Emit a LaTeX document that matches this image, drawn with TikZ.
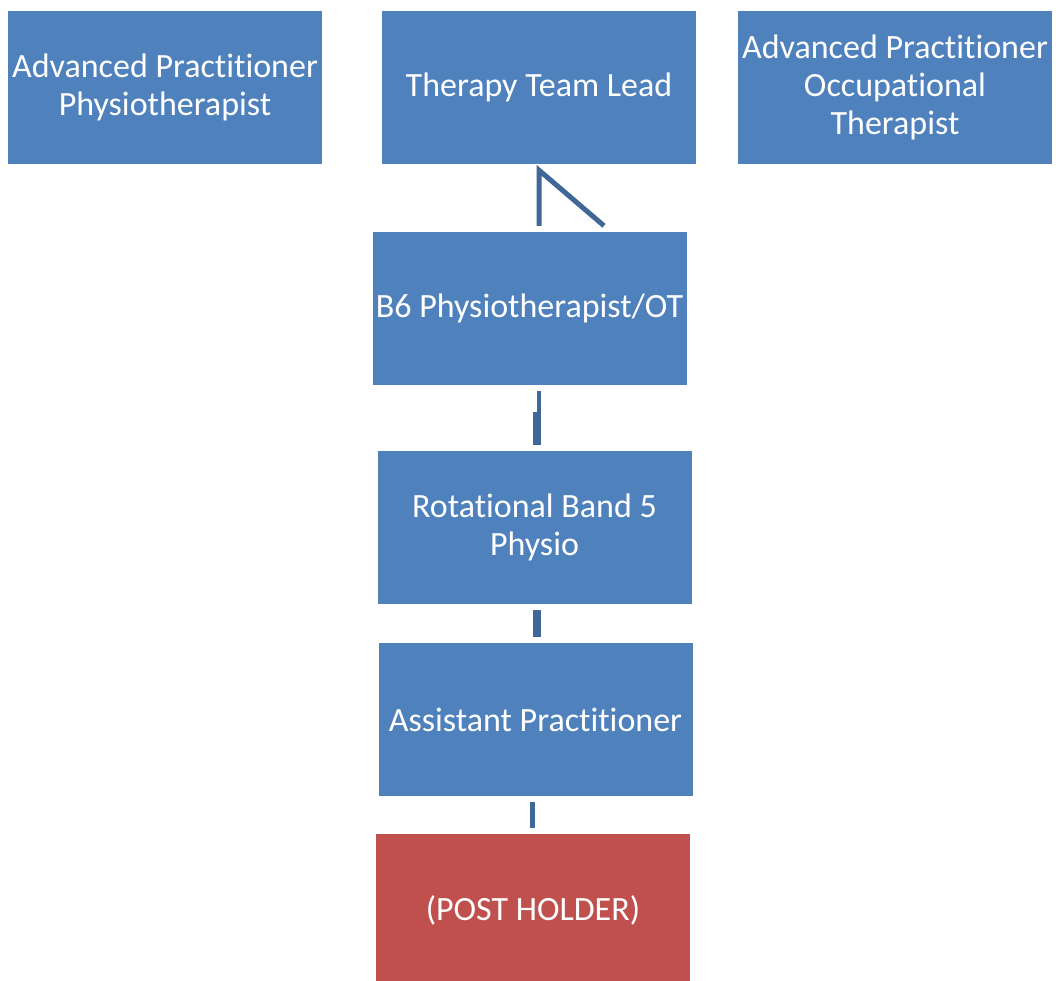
\documentclass[tikz,border=0pt]{standalone}
\usepackage{fontspec}
\setmainfont{Carlito}[Ligatures={NoCommon}]
\usetikzlibrary{calc}
\definecolor{boxblue}{HTML}{4F81BD}
\definecolor{boxred}{HTML}{C0504D}
\definecolor{linkblue}{HTML}{3F6797}
\tikzset{
  orgbox/.style={fill=boxblue, draw=none, minimum width=314pt, minimum height=153pt, inner sep=0pt, align=center, text=white, font=\fontsize{34}{38}\selectfont},
  postbox/.style={orgbox, fill=boxred},
  link/.style={draw=linkblue, line width=5pt}
}
\begin{document}
\begin{tikzpicture}[x=1pt,y=-1pt]
\useasboundingbox (0,0) rectangle (1056,980);
\node[orgbox] (app) at (165,87.5) {Advanced Practitioner\\Physiotherapist};
\node[orgbox] (ttl) at (539,87.5) {Therapy Team Lead};
\node[orgbox] (apo) at (895,87.5) {Advanced Practitioner\\Occupational\\Therapist};
\node[orgbox] (b6) at (529.5,308.5) {B6 Physiotherapist/OT};
\node[orgbox] (rot) at (534.5,527.5) {Rotational Band 5\\Physio};
\node[orgbox] (ap) at (535.5,719.5) {Assistant Practitioner};
\node[postbox] (ph) at (533,910.5) {(POST HOLDER)};
% TTL to B6
\coordinate (t1) at ($(ttl.south)+(0,6)$);
\coordinate (t2) at ($(b6.north -| ttl.south)+(0,-6)$);
\coordinate (t3) at ($(t2)+(65,0)$);
\draw[link, line join=miter] (t2) -- (t1) -- (t3);
% B6 to Rot
\coordinate (b1) at ($(b6.south -| ttl.south)+(0,6)$);
\coordinate (b2) at ($(rot.north -| ttl.south)+(0,-6)$);
\draw[link, line width=4pt] (b1) -- (b2);
\draw[link, line width=4pt] ($(b2)+(-4,-33)$) -- ($(b2)+(-4,0)$);
% Rot to Asst
\draw[link, line width=8pt] ($(rot.south)+(2.5,6)$) -- ($(ap.north)+(1.5,-6)$);
% Asst to Post
\draw[link] ($(ap.south)+(-3,6)$) -- ($(ph.north)+(-0.5,-6)$);
\end{tikzpicture}
\end{document}
